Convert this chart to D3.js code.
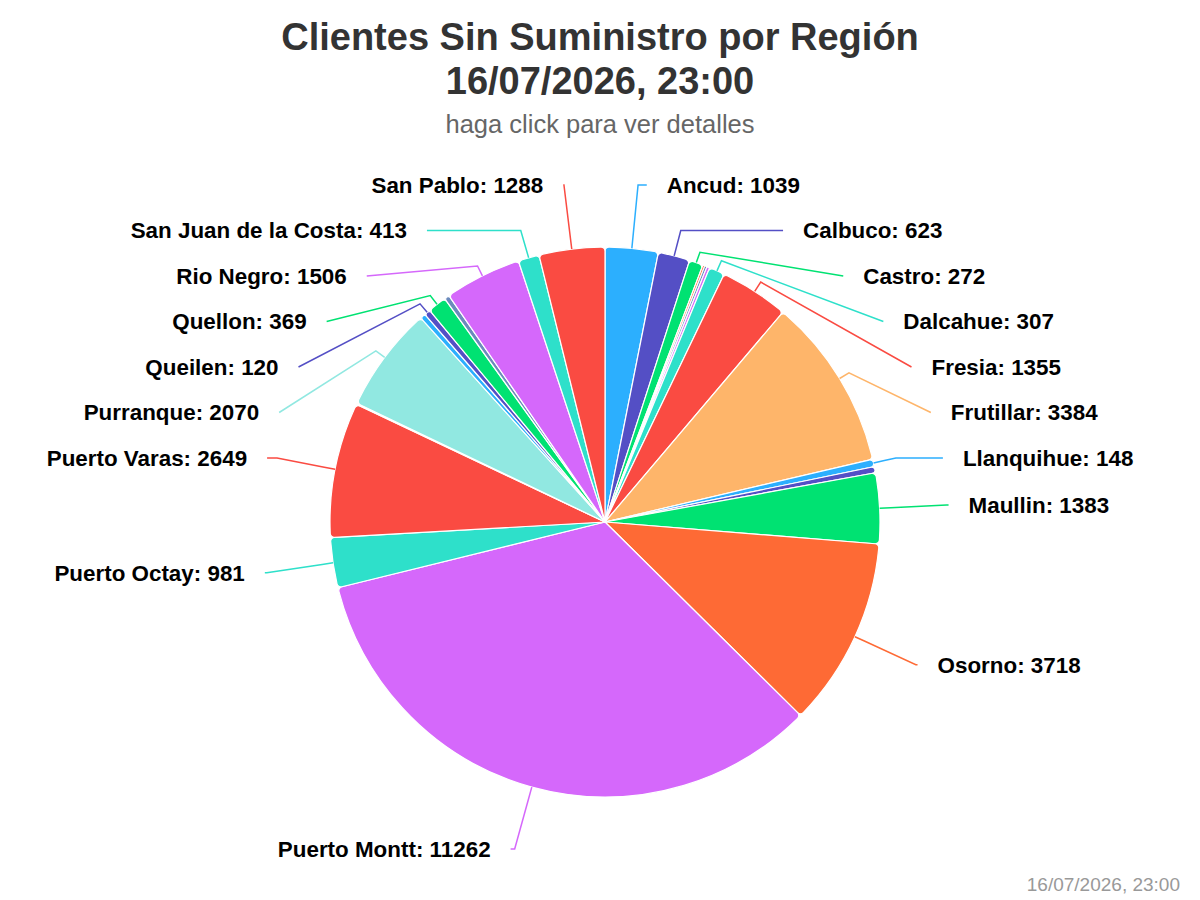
<!DOCTYPE html>
<html>
<head>
<meta charset="utf-8">
<script src="https://cdn.jsdelivr.net/npm/d3@7"></script>
<style>
  html, body { margin: 0; padding: 0; background: #fff; }
  svg { display: block; font-family: "Liberation Sans", Arial, Helvetica, sans-serif; }
</style>
</head>
<body>
<div id="chart"></div>
<script>
// data: one entry per comuna, in drawing order (clockwise from 12 o'clock)
// null name = slice too small, its label is hidden
const comunas = ["Ancud", "Calbuco", "Castro", null, null, null, "Dalcahue", "Fresia",
  "Frutillar", null, "Llanquihue", null, "Maullin", "Osorno", null, "Puerto Montt",
  "Puerto Octay", "Puerto Varas", null, "Purranque", null, "Queilen", "Quellon", null,
  null, "Rio Negro", "San Juan de la Costa", "San Pablo"];
const clientes = [1039, 623, 272, 40, 45, 55, 307, 1355,
  3384, 0, 148, 120, 1383, 3718, 0, 11262,
  981, 2649, 25, 2070, 105, 120, 369, 0,
  100, 1506, 413, 1288];
const palette = ["#2caffe", "#544fc5", "#00e272", "#fe6a35", "#6b8abc",
  "#d568fb", "#2ee0ca", "#fa4b42", "#feb56a", "#91e8e1"];

const titulo = ["Clientes Sin Suministro por Región", "16/07/2026, 23:00"];
const subtitulo = "haga click para ver detalles";
const credito = "16/07/2026, 23:00";

const width = 1200, height = 900;
const cx = 605, cy = 522, r = 275;
const labelR = 342;      // natural label circle
const edgeR = 339;       // circle used for the connector end x
const rowH = 45.5;       // vertical space per label
const yTop = 185, yBottom = 849;

const svg = d3.select("#chart").append("svg")
  .attr("width", width).attr("height", height);

// Titles
const title = svg.append("text")
  .attr("x", 600).attr("text-anchor", "middle")
  .style("font-size", "38px").style("font-weight", "bold").attr("fill", "#333");
title.selectAll("tspan").data(titulo).join("tspan")
  .attr("x", 600).attr("y", (d, i) => 50 + i * 44).text((d) => d);

svg.append("text")
  .attr("x", 600).attr("y", 133).attr("text-anchor", "middle")
  .style("font-size", "25.5px").attr("fill", "#666").text(subtitulo);

svg.append("text")
  .attr("x", 1180).attr("y", 891).attr("text-anchor", "end")
  .style("font-size", "19px").attr("fill", "#999").text(credito);

const data = comunas.map((name, i) => ({
  name, value: clientes[i], color: palette[i % palette.length]
}));

const pie = d3.pie().value((d) => d.value).sort(null);
const arcs = pie(data);
const arc = d3.arc().innerRadius(0).outerRadius(r).cornerRadius(4);

const g = svg.append("g").attr("transform", `translate(${cx},${cy})`);

g.selectAll("path.slice")
  .data(arcs.filter((d) => d.data.value > 0))
  .join("path")
  .attr("class", "slice")
  .attr("d", arc)
  .attr("fill", (d) => d.data.color)
  .attr("stroke", "#fff")
  .attr("stroke-width", 1.2)
  .attr("stroke-linejoin", "round");

// Label layout: natural position on a bigger circle, then pushed apart per side
const labels = arcs.filter((d) => d.data.name).map((d) => {
  const mid = (d.startAngle + d.endAngle) / 2;
  return {
    arc: d,
    mid,
    right: mid < Math.PI,
    target: cy - labelR * Math.cos(mid),
  };
});

function distribute(items) {
  items.sort((a, b) => a.target - b.target);
  const lo = yTop - rowH / 2, hi = yBottom + rowH / 2;
  let boxes = items.map((d) => ({ targets: [d.target], size: rowH, items: [d] }));
  let overlapping = true;
  while (overlapping) {
    boxes.forEach((b) => {
      const m = (d3.min(b.targets) + d3.max(b.targets)) / 2;
      b.pos = Math.max(lo, Math.min(hi - b.size, m - b.size / 2));
    });
    overlapping = false;
    for (let i = boxes.length - 1; i > 0; i--) {
      if (boxes[i - 1].pos + boxes[i - 1].size > boxes[i].pos) {
        boxes[i - 1].size += boxes[i].size;
        boxes[i - 1].targets = boxes[i - 1].targets.concat(boxes[i].targets);
        boxes[i - 1].items = boxes[i - 1].items.concat(boxes[i].items);
        boxes.splice(i, 1);
        overlapping = true;
      }
    }
  }
  boxes.forEach((b) => b.items.forEach((d, k) => (d.y = b.pos + rowH * k + rowH / 2)));
}

distribute(labels.filter((d) => d.right));
distribute(labels.filter((d) => !d.right));

labels.forEach((d) => {
  const dy = d.y - cy;
  const dx = Math.sqrt(Math.max(0, edgeR * edgeR - dy * dy)) + 5;
  d.x = d.right ? cx + dx : cx - dx;
});

function connector(d) {
  const s = Math.sin(d.mid), c = Math.cos(d.mid);
  const touch = [cx + r * s, cy - r * c];
  const brk = [cx + (r + 11) * s, cy - (r + 11) * c];
  const crookX = cx + (cy - d.y) * Math.tan(d.mid);
  const p = d3.path();
  p.moveTo(d.x, d.y);
  const ok = d.right
    ? crookX <= d.x && crookX >= brk[0]
    : crookX >= d.x && crookX <= brk[0];
  if (ok) p.lineTo(crookX, d.y);
  p.lineTo(brk[0], brk[1]);
  p.lineTo(touch[0], touch[1]);
  return p.toString();
}

svg.append("g").selectAll("path")
  .data(labels)
  .join("path")
  .attr("d", connector)
  .attr("fill", "none")
  .attr("stroke", (d) => d.arc.data.color)
  .attr("stroke-width", 1.5);

svg.append("g").selectAll("text")
  .data(labels)
  .join("text")
  .attr("x", (d) => (d.right ? d.x + 20 : d.x - 20))
  .attr("y", (d) => d.y)
  .attr("dy", "0.35em")
  .attr("text-anchor", (d) => (d.right ? "start" : "end"))
  .style("font-size", "22.4px")
  .style("font-weight", "bold")
  .attr("fill", "#000")
  .text((d) => `${d.arc.data.name}: ${d.arc.data.value}`);
</script>
</body>
</html>
